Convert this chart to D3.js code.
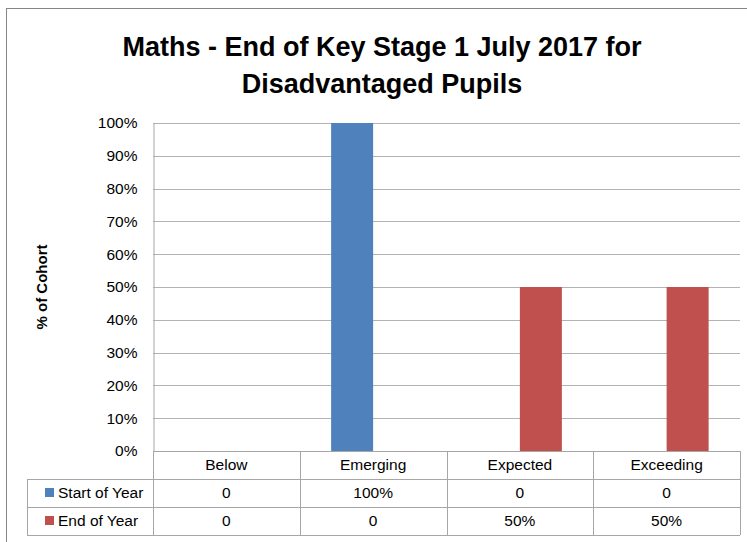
<!DOCTYPE html>
<html>
<head>
<meta charset="utf-8">
<title>Maths - End of Key Stage 1</title>
<script src="https://d3js.org/d3.v7.min.js"></script>
<style>
  body { margin: 0; background: #fff; }
  svg { display: block; font-family: "Liberation Sans", Arial, sans-serif; }
</style>
</head>
<body>
<div id="chart"></div>
<script>
// data
var categories = ["Below", "Emerging", "Expected", "Exceeding"];
var seriesNames = ["Start of Year", "End of Year"];
var startOfYear = [0, 100, 0, 0];
var endOfYear = [0, 0, 50, 50];
var yTicks = [0, 10, 20, 30, 40, 50, 60, 70, 80, 90, 100];
var colors = ["#4f81bd", "#c0504d"];

var W = 747, H = 542;
var plot = { left: 153, right: 740, top: 123, bottom: 451 };
var rowH = 28;
var tableLeft = 27;

var svg = d3.select("#chart").append("svg")
    .attr("width", W).attr("height", H);

// outer chart border
svg.append("rect")
    .attr("x", 6.5).attr("y", 8.5)
    .attr("width", W + 10).attr("height", H + 10)
    .attr("fill", "none").attr("stroke", "#868686");

// title
var title = svg.append("text")
    .attr("text-anchor", "middle")
    .style("font-weight", "bold")
    .style("font-size", "27px")
    .attr("fill", "#000");
title.append("tspan").attr("x", 382).attr("y", 56).text("Maths - End of Key Stage 1 July 2017 for");
title.append("tspan").attr("x", 382).attr("y", 93).text("Disadvantaged Pupils");

var x = d3.scaleBand().domain(categories).range([plot.left, plot.right]);
var barW = 42;
var x1 = d3.scaleBand().domain(seriesNames)
    .range([x.bandwidth() / 2 - barW, x.bandwidth() / 2 + barW]);
var y = d3.scaleLinear().domain([0, 100]).range([plot.bottom, plot.top]);

// gridlines
svg.append("g")
    .selectAll("line").data(yTicks.slice(1)).join("line")
    .attr("x1", plot.left).attr("x2", plot.right)
    .attr("y1", d => Math.round(y(d)) + 0.5).attr("y2", d => Math.round(y(d)) + 0.5)
    .attr("stroke", "#b3b3b3");

// y axis
var yAxis = svg.append("g")
    .attr("transform", "translate(" + (plot.left + 0.5) + ",0)")
    .call(d3.axisLeft(y).tickValues(yTicks).tickFormat(d => d + "%").tickSize(0).tickPadding(16));
yAxis.select(".domain").attr("stroke", "#a6a6a6");
yAxis.selectAll("text")
    .style("font-size", "15.5px")
    .style("font-family", "'Liberation Sans', Arial, sans-serif")
    .attr("fill", "#000");

// y title
svg.append("text")
    .attr("transform", "translate(47," + ((plot.top + plot.bottom) / 2) + ") rotate(-90)")
    .attr("text-anchor", "middle")
    .style("font-weight", "bold")
    .style("font-size", "15px")
    .text("% of Cohort");

// bars
var seriesData = [startOfYear, endOfYear];
seriesNames.forEach(function (name, s) {
    svg.append("g")
        .selectAll("rect").data(categories).join("rect")
        .attr("x", d => x(d) + x1(name))
        .attr("width", x1.bandwidth())
        .attr("y", (d, i) => y(seriesData[s][i]))
        .attr("height", (d, i) => y(0) - y(seriesData[s][i]))
        .attr("fill", colors[s]);
});

// data table
var table = svg.append("g");
var lineColor = "#a6a6a6";
var fmt = v => v === 0 ? "0" : v + "%";

// horizontal lines
[plot.bottom, plot.bottom + rowH, plot.bottom + 2 * rowH, plot.bottom + 3 * rowH].forEach(function (yy, i) {
    table.append("line")
        .attr("x1", i === 0 ? plot.left : tableLeft).attr("x2", plot.right)
        .attr("y1", yy + 0.5).attr("y2", yy + 0.5)
        .attr("stroke", lineColor);
});
// vertical lines
categories.concat([null]).forEach(function (c) {
    var xx = c === null ? plot.right : x(c);
    table.append("line")
        .attr("x1", Math.round(xx) + 0.5).attr("x2", Math.round(xx) + 0.5)
        .attr("y1", plot.bottom).attr("y2", plot.bottom + 3 * rowH)
        .attr("stroke", lineColor);
});
table.append("line")
    .attr("x1", tableLeft + 0.5).attr("x2", tableLeft + 0.5)
    .attr("y1", plot.bottom + rowH).attr("y2", plot.bottom + 3 * rowH)
    .attr("stroke", lineColor);

// header row
table.selectAll("text.cat").data(categories).join("text")
    .attr("class", "cat")
    .attr("x", d => x(d) + x.bandwidth() / 2)
    .attr("y", plot.bottom + rowH / 2)
    .attr("dy", "0.35em")
    .attr("text-anchor", "middle")
    .style("font-size", "15.5px")
    .text(d => d);

// series rows
seriesNames.forEach(function (name, s) {
    var cy = plot.bottom + rowH * (s + 1) + rowH / 2;
    table.append("rect")
        .attr("x", 45).attr("y", cy - 5)
        .attr("width", 9).attr("height", 9)
        .attr("fill", colors[s]);
    table.append("text")
        .attr("x", 58).attr("y", cy).attr("dy", "0.35em")
        .style("font-size", "15.5px")
        .text(name);
    table.append("g").selectAll("text").data(categories).join("text")
        .attr("x", d => x(d) + x.bandwidth() / 2)
        .attr("y", cy).attr("dy", "0.35em")
        .attr("text-anchor", "middle")
        .style("font-size", "15.5px")
        .text((d, i) => fmt(seriesData[s][i]));
});
</script>
</body>
</html>
